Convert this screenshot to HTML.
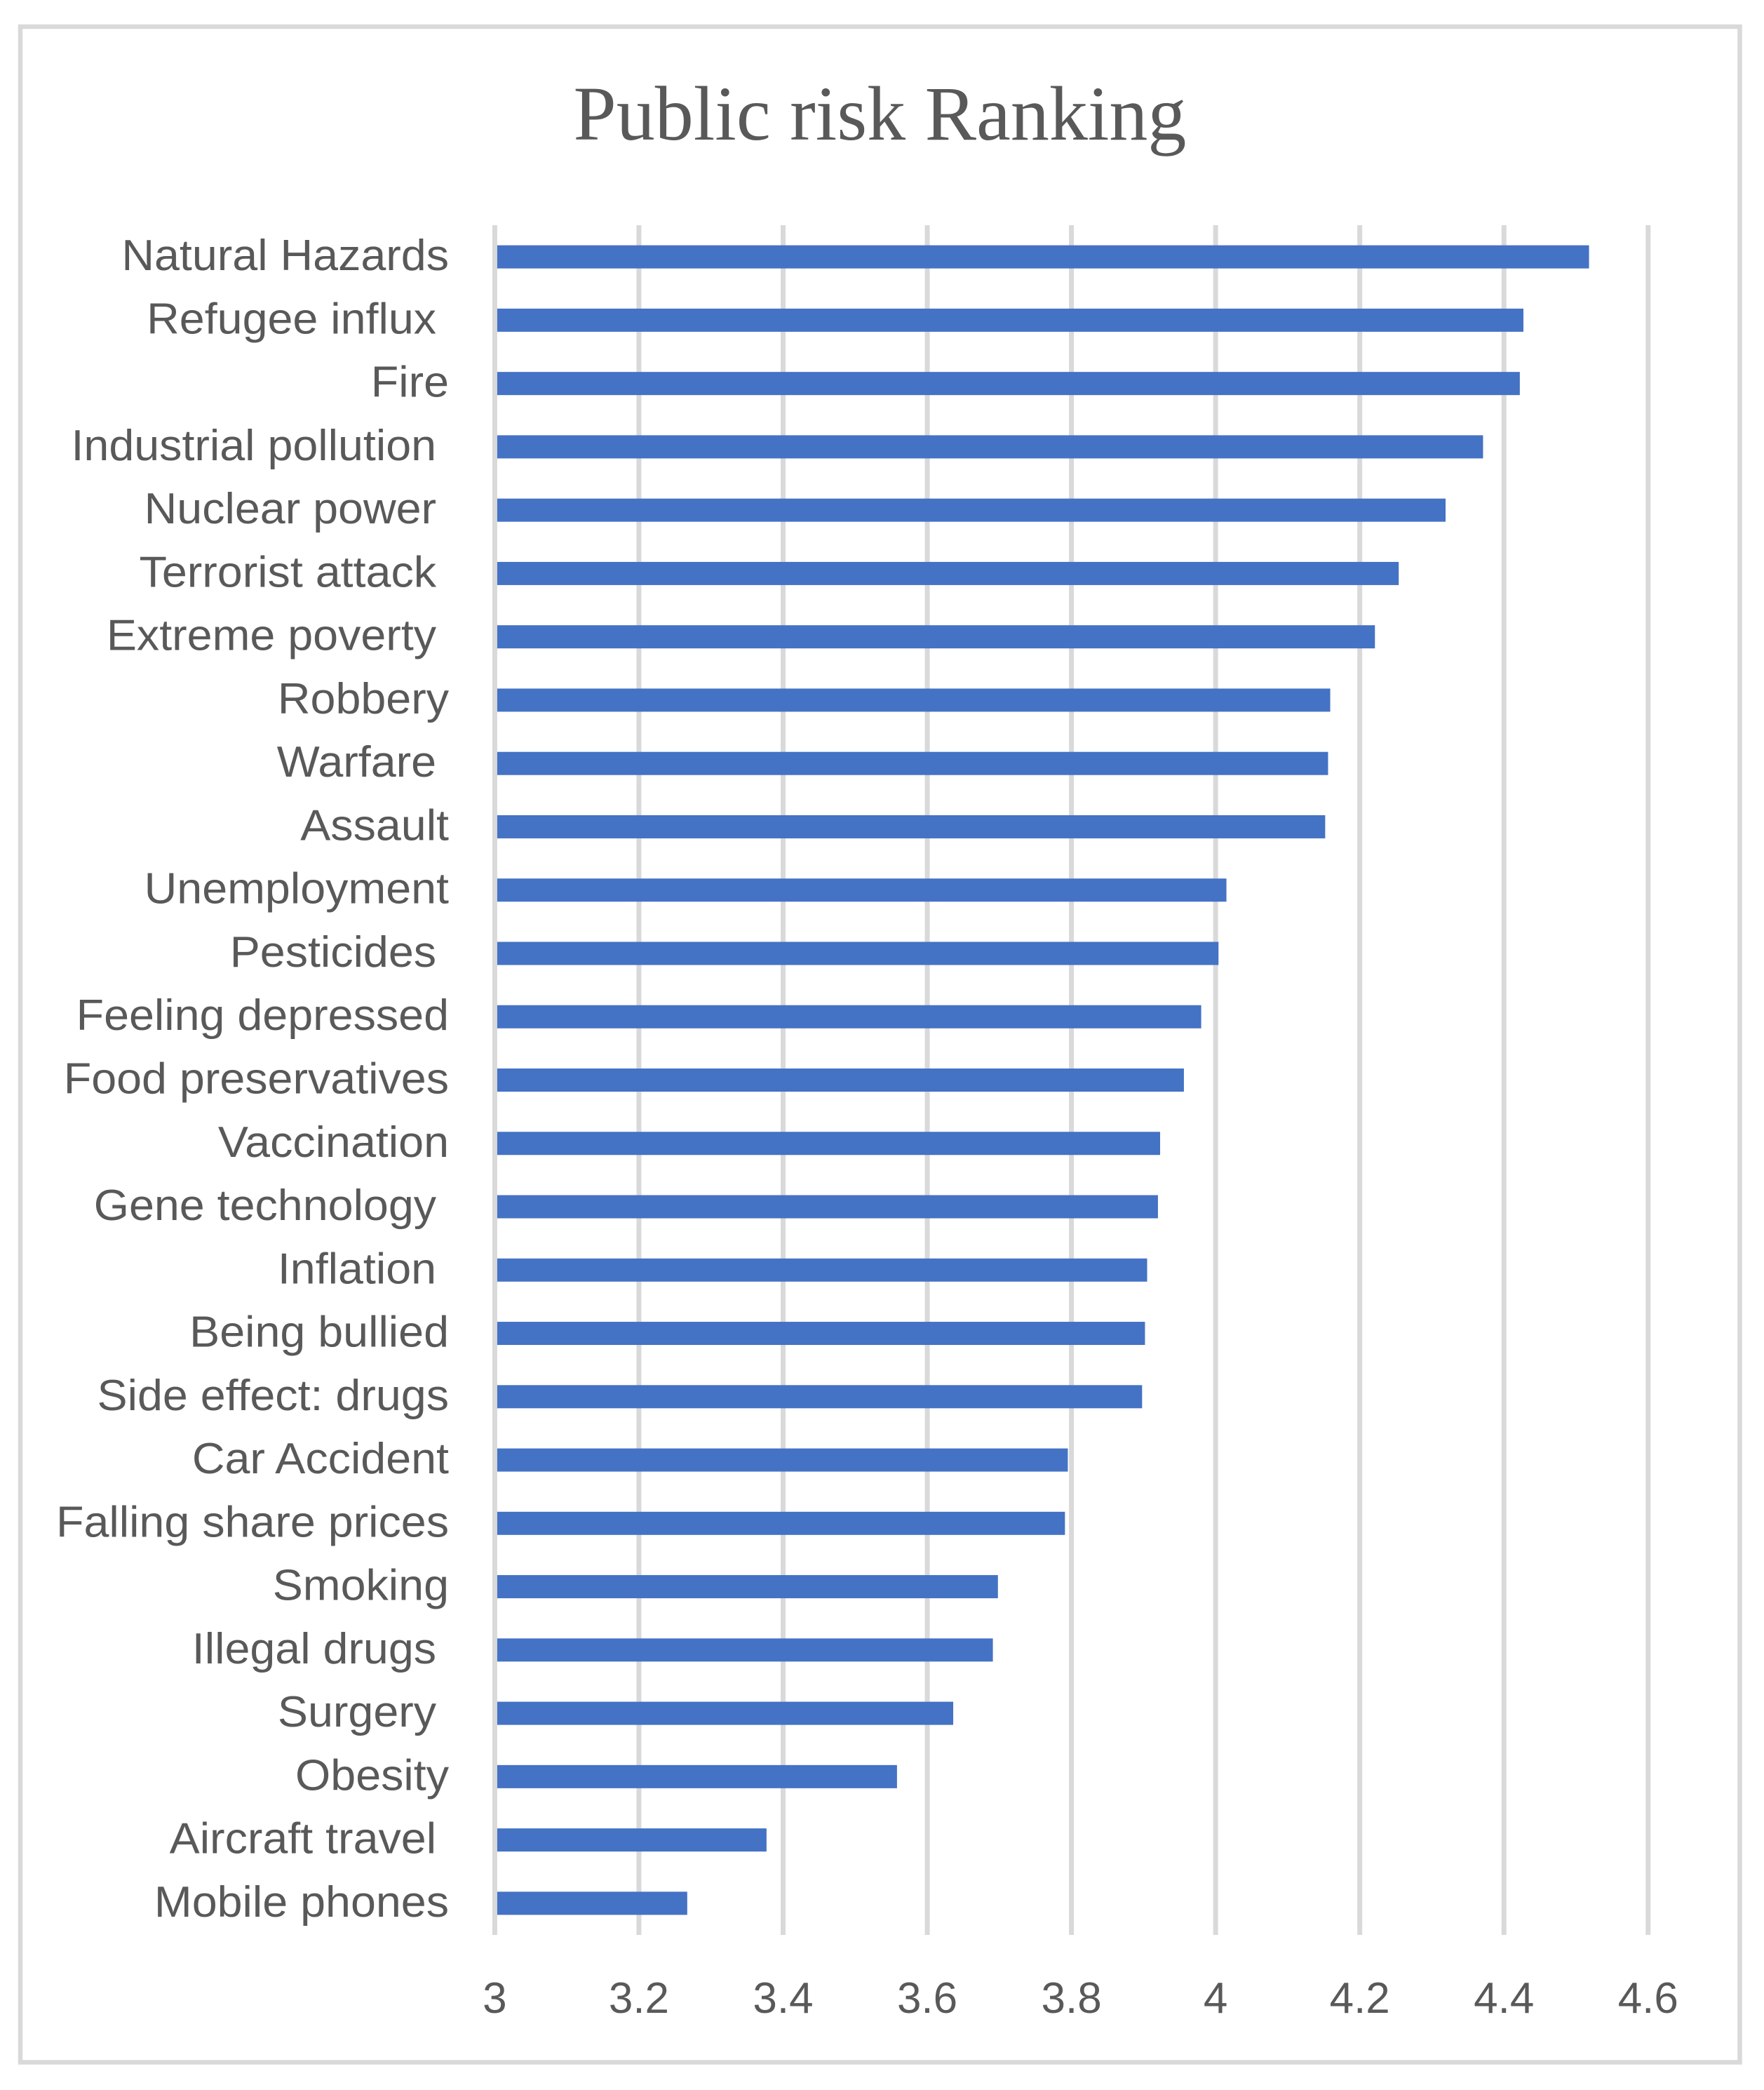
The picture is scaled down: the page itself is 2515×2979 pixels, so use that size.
<!DOCTYPE html>
<html lang="en">
<head>
<meta charset="utf-8">
<title>Public risk Ranking</title>
<style>
  html, body { margin: 0; padding: 0; background: #ffffff; }
  #chart { display: block; }
  text { fill: #595959; white-space: pre; }
  .cat, .tick { font-family: "Liberation Sans", sans-serif; font-size: 62px; }
  .title { font-family: "Liberation Serif", serif; font-size: 110px; }
</style>
</head>
<body>
<svg id="chart" xmlns="http://www.w3.org/2000/svg" width="2515" height="2979" viewBox="0 0 2515 2979">
  <rect x="0" y="0" width="2515" height="2979" fill="#ffffff"></rect>
  <rect x="29" y="38" width="2451.5" height="2901.5" fill="#ffffff" stroke="#d9d9d9" stroke-width="6.5"></rect>
  <text class="title" x="1254.5" y="199" text-anchor="middle">Public risk Ranking</text>
  <g id="grid"></g>
  <g id="bars"></g>
  <g id="cats"></g>
  <g id="ticks"></g>
</svg>
<script>
const categories = [
  "Natural Hazards", "Refugee influx ", "Fire", "Industrial pollution ", "Nuclear power ",
  "Terrorist attack ", "Extreme poverty ", "Robbery", "Warfare ", "Assault",
  "Unemployment", "Pesticides ", "Feeling depressed", "Food preservatives", "Vaccination",
  "Gene technology ", "Inflation ", "Being bullied", "Side effect: drugs", "Car Accident",
  "Falling share prices", "Smoking", "Illegal drugs ", "Surgery ", "Obesity",
  "Aircraft travel ", "Mobile phones"
];
const riskValues = [
  4.518, 4.427, 4.422, 4.371, 4.319,
  4.254, 4.221, 4.159, 4.156, 4.152,
  4.015, 4.004, 3.980, 3.956, 3.923,
  3.920, 3.905, 3.902, 3.898, 3.795,
  3.791, 3.698, 3.691, 3.636, 3.558,
  3.377, 3.267
];
const tickValues = [3, 3.2, 3.4, 3.6, 3.8, 4, 4.2, 4.4, 4.6];
const tickLabels = ["3", "3.2", "3.4", "3.6", "3.8", "4", "4.2", "4.4", "4.6"];

const NS = "http://www.w3.org/2000/svg";
const plotLeft = 705.4, plotRight = 2349.8, plotTop = 321, plotBottom = 2758;
const domainMin = tickValues[0], domainMax = tickValues[tickValues.length - 1];
const GRID_W = 7, BAR_H = 33, LABEL_X = 640, LABEL_SCALE = 1.042, BASELINE_SHIFT = 19, TICK_BASE = 2869;

function xScale(v) {
  return plotLeft + (v - domainMin) / (domainMax - domainMin) * (plotRight - plotLeft);
}
function bandCenter(i) {
  return plotTop + (plotBottom - plotTop) / categories.length * (i + 0.5);
}
function make(tag, attrs) {
  const el = document.createElementNS(NS, tag);
  for (const k in attrs) el.setAttribute(k, attrs[k]);
  return el;
}
function slug(s) {
  return s.trim().toLowerCase().replace(/[^a-z0-9]+/g, "-");
}

const gridG = document.getElementById("grid");
const barsG = document.getElementById("bars");
const catsG = document.getElementById("cats");
const ticksG = document.getElementById("ticks");

tickValues.forEach(function (t, i) {
  const line = make("rect", { x: xScale(t) - GRID_W / 2, y: plotTop, width: GRID_W, height: plotBottom - plotTop, fill: "#d9d9d9" });
  
  
  gridG.appendChild(line);

  const label = make("text", { class: "tick", x: xScale(t), y: TICK_BASE, "text-anchor": "middle" });
  label.textContent = tickLabels[i];
  
  
  ticksG.appendChild(label);
});

categories.forEach(function (c, i) {
  const cy = bandCenter(i);
  const x0 = xScale(domainMin) + GRID_W / 2;
  const bar = make("rect", { x: x0, y: cy - BAR_H / 2, width: Math.max(0, xScale(riskValues[i]) - x0), height: BAR_H, fill: "#4472c4" });
  
  
  barsG.appendChild(bar);

  const label = make("text", { class: "cat", "text-anchor": "end", transform: "translate(" + LABEL_X + "," + (cy + BASELINE_SHIFT) + ") scale(" + LABEL_SCALE + ",1)" });
  label.setAttributeNS("http://www.w3.org/XML/1998/namespace", "xml:space", "preserve");
  label.textContent = c;
  
  
  catsG.appendChild(label);
});
</script>
</body>
</html>
